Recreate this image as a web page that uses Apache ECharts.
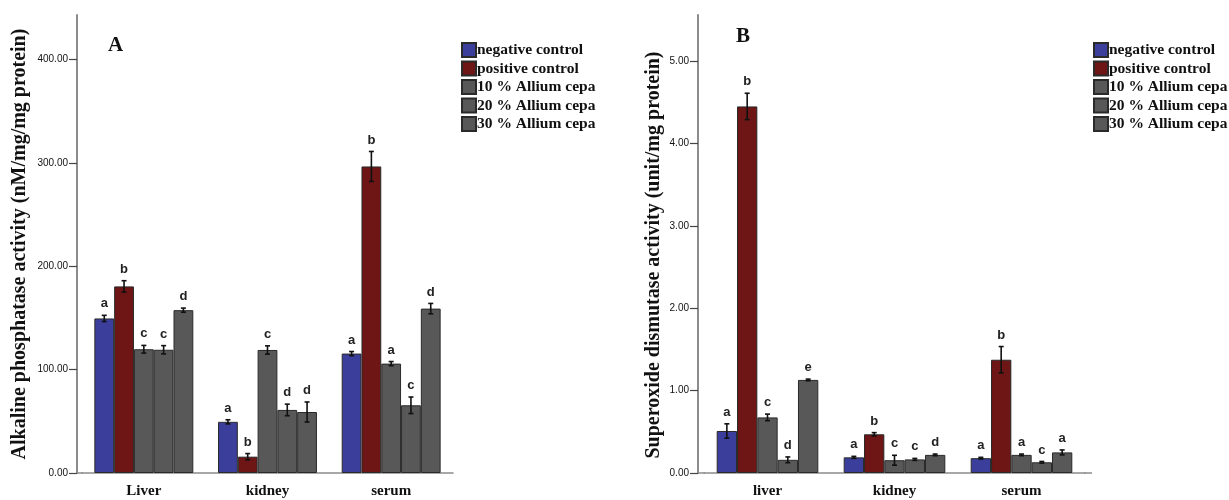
<!DOCTYPE html>
<html>
<head>
<meta charset="utf-8">
<script src="https://cdn.jsdelivr.net/npm/echarts@6/dist/echarts.min.js"></script>
<style>
html,body{margin:0;padding:0;background:#fff;}
#chart{width:1229px;height:500px;}
</style>
</head>
<body>
<div id="chart"></div>
<script>
// ---------- data ----------
const seriesNames = ['negative control', 'positive control', '10 % Allium cepa', '20 % Allium cepa', '30 % Allium cepa'];
const categoriesA = ['Liver', 'kidney', 'serum'];
const categoriesB = ['liver', 'kidney', 'serum'];

// Panel A: Alkaline phosphatase (rows = series, cols = categories)
const meansA = [
  [149.5, 49.5, 115.5],
  [180.5, 15.8, 296.5],
  [119.7, 119.0, 105.8],
  [119.2, 61.0, 65.5],
  [157.5, 59.0, 159.0]
];
const errA = [
  [3, 2, 2],
  [5.5, 3, 14.5],
  [3.7, 4, 2],
  [4, 5.6, 8],
  [2, 9.7, 5]
];
const lettersA = [
  ['a', 'a', 'a'],
  ['b', 'b', 'b'],
  ['c', 'c', 'a'],
  ['c', 'd', 'c'],
  ['d', 'd', 'd']
];
const ticksA = [0, 100, 200, 300, 400];

// Panel B: Superoxide dismutase
const meansB = [
  [0.51, 0.19, 0.18],
  [4.45, 0.47, 1.375],
  [0.675, 0.155, 0.22],
  [0.16, 0.165, 0.13],
  [1.13, 0.22, 0.25]
];
const errB = [
  [0.087, 0.012, 0.01],
  [0.16, 0.02, 0.16],
  [0.04, 0.06, 0.01],
  [0.035, 0.012, 0.01],
  [0.01, 0.01, 0.03]
];
const lettersB = [
  ['a', 'a', 'a'],
  ['b', 'b', 'b'],
  ['c', 'c', 'a'],
  ['d', 'c', 'c'],
  ['e', 'd', 'a']
];
const ticksB = [0, 1, 2, 3, 4, 5];

// ---------- styling ----------
const colors = ['#3b3e9a', '#6e1515', '#585858', '#585858', '#585858'];
const serif = '"Liberation Serif", "Times New Roman", serif';
const sans = '"Liberation Sans", Arial, sans-serif';
const GAP = 0.2;            // barCategoryGap
const NS = 5;
const AXIS_GREY = '#8c8c8c';

const chart = echarts.init(document.getElementById('chart'));

function xAxisFor(i, cats) {
  return {
    type: 'category', gridIndex: i, data: cats,
    axisLine: { lineStyle: { color: AXIS_GREY, width: 1.5 } },
    axisTick: { alignWithLabel: true, length: 7, lineStyle: { color: '#333', width: 1.5 } },
    axisLabel: { margin: 11, color: '#111', fontFamily: serif, fontWeight: 'bold', fontSize: 15 }
  };
}
function yAxisFor(i, max, ticks, off) {
  return {
    type: 'value', gridIndex: i, min: 0, max: max, offset: off,
    splitLine: { show: false },
    axisLine: { show: true, lineStyle: { color: AXIS_GREY, width: 2 } },
    axisTick: { show: true, length: 8, customValues: ticks, lineStyle: { color: '#444', width: 1.2 } },
    axisLabel: { customValues: ticks, margin: 9, color: '#111', fontFamily: sans, fontSize: 10,
      formatter: v => Number(v).toFixed(2) }
  };
}

function barSeries(p, means) {
  return means.map((row, i) => ({
    type: 'bar', name: seriesNames[i], xAxisIndex: p, yAxisIndex: p,
    data: row, barGap: '0%', barCategoryGap: (GAP * 100) + '%',
    itemStyle: { color: colors[i], borderColor: '#2a2a2a', borderWidth: 1 },
    emphasis: { disabled: true }, z: 2
  }));
}

function errSeries(p, means, errs, letters) {
  return means.map((row, i) => ({
    type: 'custom', name: 'err' + p + '_' + i, xAxisIndex: p, yAxisIndex: p, z: 5,
    data: row.map((m, k) => [k, m, errs[i][k]]),
    renderItem: function (params, api) {
      const k = api.value(0), m = api.value(1), e = api.value(2);
      const band = api.size([1, 0])[0];
      const c = api.coord([k, m]);
      const x = c[0] - band * (1 - GAP) / 2 + (i + 0.5) * band * (1 - GAP) / NS;
      const yt = api.coord([k, m + e])[1];
      const yb = api.coord([k, m - e])[1];
      const st = { stroke: '#111', lineWidth: 1.6 };
      const cap = 2.5;
      return {
        type: 'group', children: [
          { type: 'line', shape: { x1: x, y1: yt, x2: x, y2: yb }, style: st },
          { type: 'line', shape: { x1: x - cap, y1: yt, x2: x + cap, y2: yt }, style: st },
          { type: 'line', shape: { x1: x - cap, y1: yb, x2: x + cap, y2: yb }, style: st },
          { type: 'text', x: x, y: yt - 5, style: {
              text: letters[i][params.dataIndex], textAlign: 'center', textVerticalAlign: 'bottom',
              font: 'bold 13px ' + sans, fill: '#222' } }
        ]
      };
    }
  }));
}

function legendFor(left) {
  return {
    data: seriesNames, orient: 'vertical', left: left, top: 37,
    itemWidth: 14, itemHeight: 14, itemGap: 2.5, icon: 'rect',
    selectedMode: false,
    textStyle: { fontFamily: serif, fontWeight: 'bold', fontSize: 15.5, lineHeight: 16, color: '#111', padding: [0, 0, 0, -4] }
  };
}

const option = {
  animation: false,
  grid: [
    { left: 82, top: 15, width: 371, height: 458 },
    { left: 704, top: 15, width: 381, height: 458 }
  ],
  xAxis: [xAxisFor(0, categoriesA), xAxisFor(1, categoriesB)],
  yAxis: [yAxisFor(0, 443, ticksA, 5), yAxisFor(1, 5.56, ticksB, 6)],
  legend: [legendFor(456), legendFor(1088)],
  series: [].concat(
    barSeries(0, meansA), errSeries(0, meansA, errA, lettersA),
    barSeries(1, meansB), errSeries(1, meansB, errB, lettersB)
  ),
  graphic: [
    // small extensions of the x axis lines to meet the offset y axes
    { type: 'line', shape: { x1: 77, y1: 473, x2: 83, y2: 473 }, style: { stroke: AXIS_GREY, lineWidth: 1.5 } },
    { type: 'line', shape: { x1: 698, y1: 473, x2: 705, y2: 473 }, style: { stroke: AXIS_GREY, lineWidth: 1.5 } },
    { type: 'line', shape: { x1: 1084, y1: 473, x2: 1092, y2: 473 }, style: { stroke: AXIS_GREY, lineWidth: 1.5 } },
    { type: 'text', x: 108, y: 46, style: { text: 'A', font: 'bold 21px ' + serif, fill: '#111', textVerticalAlign: 'middle' } },
    { type: 'text', x: 736, y: 37, style: { text: 'B', font: 'bold 21px ' + serif, fill: '#111', textVerticalAlign: 'middle' } },
    { type: 'text', x: 20, y: 244, rotation: Math.PI / 2,
      style: { text: 'Alkaline phosphatase activity (nM/mg/mg protein)', font: 'bold 20px ' + serif, fill: '#111', textAlign: 'center', textVerticalAlign: 'middle' } },
    { type: 'text', x: 654, y: 255, rotation: Math.PI / 2,
      style: { text: 'Superoxide dismutase activity (unit/mg protein)', font: 'bold 20px ' + serif, fill: '#111', textAlign: 'center', textVerticalAlign: 'middle' } }
  ]
};
chart.setOption(option);
</script>
</body>
</html>
